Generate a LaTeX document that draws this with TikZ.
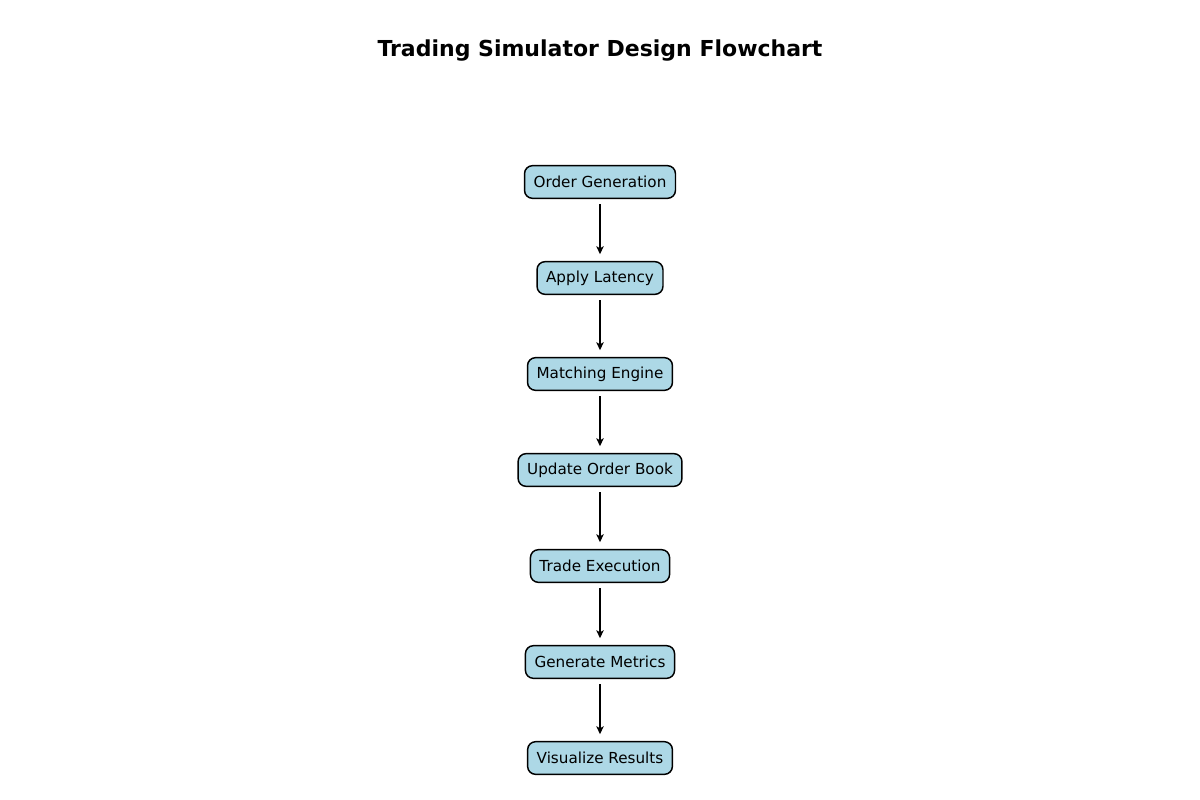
\documentclass[tikz,border=0pt]{standalone}
\usepackage{fontspec}
\setmainfont{DejaVu Sans}
\usetikzlibrary{arrows.meta}
\begin{document}
\begin{tikzpicture}[x=0.75pt,y=-0.75pt,
  box/.style={draw=black,fill={rgb,255:red,173;green,216;blue,230},line width=1.1pt,rounded corners=6pt,
    minimum height=24.5pt,inner xsep=6.8pt,font=\fontsize{11.4}{13}\selectfont},
  conn/.style={-{Stealth[length=6pt,width=5.5pt,inset=1.5pt]},line width=1.1pt,shorten <=4pt,shorten >=5pt}]
\useasboundingbox (0,0) rectangle (1200,800);
\node[font=\bfseries\fontsize{16.5}{19}\selectfont] (title) at (600,51) {Trading Simulator Design Flowchart};
\node[box] (n1) at (600,182) {Order Generation};
\node[box] (n2) at (600,278) {Apply Latency};
\node[box] (n3) at (600,374) {Matching Engine};
\node[box] (n4) at (600,470) {Update Order Book};
\node[box] (n5) at (600,566) {Trade Execution};
\node[box] (n6) at (600,662) {Generate Metrics};
\node[box] (n7) at (600,758) {Visualize Results};
\foreach \a/\b in {n1/n2,n2/n3,n3/n4,n4/n5,n5/n6,n6/n7}
  \draw[conn] (\a) -- (\b);
\end{tikzpicture}
\end{document}
